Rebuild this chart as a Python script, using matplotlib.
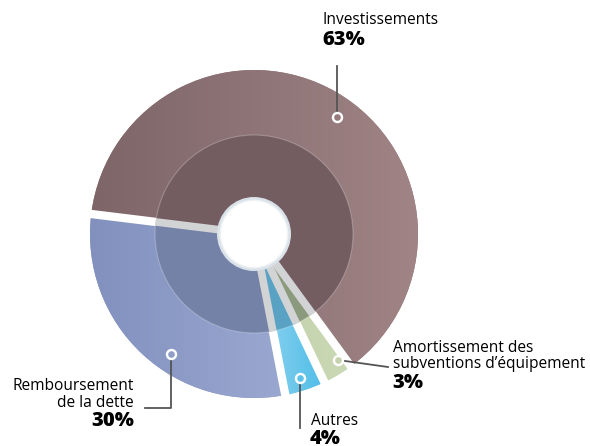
import numpy as np
import matplotlib
matplotlib.use("Agg")
import matplotlib.pyplot as plt
from matplotlib.patches import Circle
from matplotlib.colors import LinearSegmentedColormap

# data
labels = ["Investissements", "Amortissement des\nsubventions d\u2019\u00e9quipement", "Autres", "Remboursement\nde la dette"]
shares = [63, 3, 4, 30]
# outer ring: left -> right gradient colours
outer_left = ["#7d6568", "#c0cfa8", "#93d5f0", "#8190bd"]
outer_right = ["#a08486", "#ccd9b6", "#4fbde8", "#9aa8d1"]
inner_colors = ["#745d60", "#8b9a7d", "#5aa2c3", "#7582a8"]
marker_colors = ["#967a7c", "#c4d3ad", "#5cc2ea", "#8f9dc7"]

H = 446
cx, cy = 254, H - 234
R_OUT, R_IN, R_HOLE = 164, 99, 33
START = 173

fig = plt.figure(figsize=(5.9, 4.46), dpi=100)
ax = fig.add_axes([0, 0, 1, 1])
ax.axis("off")

wedges, _ = ax.pie(shares, colors=marker_colors, startangle=START, counterclock=False,
                   radius=R_OUT, center=(cx, cy), wedgeprops=dict(linewidth=0))
grad = np.linspace(0, 1, 256).reshape(1, -1)
for w, c0, c1 in zip(wedges, outer_left, outer_right):
    v = w.get_path().vertices
    cmap = LinearSegmentedColormap.from_list("g", [c0, c1])
    im = ax.imshow(grad, cmap=cmap, aspect="auto", interpolation="bilinear",
                   extent=(v[:, 0].min(), v[:, 0].max(), v[:, 1].min(), v[:, 1].max()),
                   zorder=1.5)
    im.set_clip_path(w)

ax.pie(shares, colors=inner_colors, startangle=START, counterclock=False,
       radius=R_IN, center=(cx, cy), wedgeprops=dict(linewidth=0, zorder=2))
ax.add_patch(Circle((cx, cy), R_IN, facecolor="none", edgecolor="#ffffff", alpha=0.25,
                    lw=0.8, zorder=2.1))

# separators between slices: white outside the inner ring, grey inside
bounds = START - 360 * np.cumsum([0] + shares[:-1]) / 100
for a in np.deg2rad(bounds):
    ca, sa = np.cos(a), np.sin(a)
    ax.plot([cx + R_IN * ca, cx + (R_OUT + 4) * ca], [cy + R_IN * sa, cy + (R_OUT + 4) * sa],
            color="white", lw=6, solid_capstyle="butt", zorder=3)
    ax.plot([cx, cx + R_IN * ca], [cy, cy + R_IN * sa],
            color="#d2d3d5", lw=5.5, solid_capstyle="butt", zorder=3)

ax.add_patch(Circle((cx, cy), R_HOLE + 4, facecolor="#d9e2e8", edgecolor="none", zorder=4))
ax.add_patch(Circle((cx, cy), R_HOLE + 1.5, facecolor="#eef2f5", edgecolor="none", zorder=4))
ax.add_patch(Circle((cx, cy), R_HOLE, facecolor="white", edgecolor="none", zorder=4))

# leader lines and markers (image pixel coordinates)
line_col = "#555555"
markers = [(337, 117), (338, 360), (300, 378), (171, 354)]
paths = [
    [(337, 117), (337, 66)],
    [(338, 360), (388, 367)],
    [(300, 378), (300, 428)],
    [(171, 354), (171, 408), (145, 408)],
]
for (mx, my), pts, col in zip(markers, paths, marker_colors):
    xs = [p[0] for p in pts]
    ys = [H - p[1] for p in pts]
    ax.plot(xs, ys, color=line_col, lw=1.3, zorder=5)
    ax.plot(mx, H - my, "o", ms=6.5, mfc=col, mec="white", mew=1.7, zorder=6)

font = "Open Sans"
fs, fb = 11.2, 14.5
ax.text(323, H - 20, "Investissements", fontsize=fs, family=font, va="center", ha="left")
ax.text(322, H - 40, "63%", fontsize=fb, family=font, weight="heavy", va="center", ha="left")

ax.text(393, H - 348, "Amortissement des", fontsize=fs, family=font, va="center", ha="left")
ax.text(393, H - 364, "subventions d\u2019\u00e9quipement", fontsize=fs, family=font, va="center", ha="left")
ax.text(392, H - 383, "3%", fontsize=fb, family=font, weight="heavy", va="center", ha="left")

ax.text(311, H - 421, "Autres", fontsize=fs, family=font, va="center", ha="left")
ax.text(310, H - 439, "4%", fontsize=fb, family=font, weight="heavy", va="center", ha="left")

ax.text(134, H - 386, "Remboursement", fontsize=fs, family=font, va="center", ha="right")
ax.text(134, H - 403, "de la dette", fontsize=fs, family=font, va="center", ha="right")
ax.text(134, H - 421, "30%", fontsize=fb, family=font, weight="heavy", va="center", ha="right")

ax.set_xlim(0, 590)
ax.set_ylim(0, H)
ax.set_aspect("equal")

fig.savefig("out.png", dpi=100)
